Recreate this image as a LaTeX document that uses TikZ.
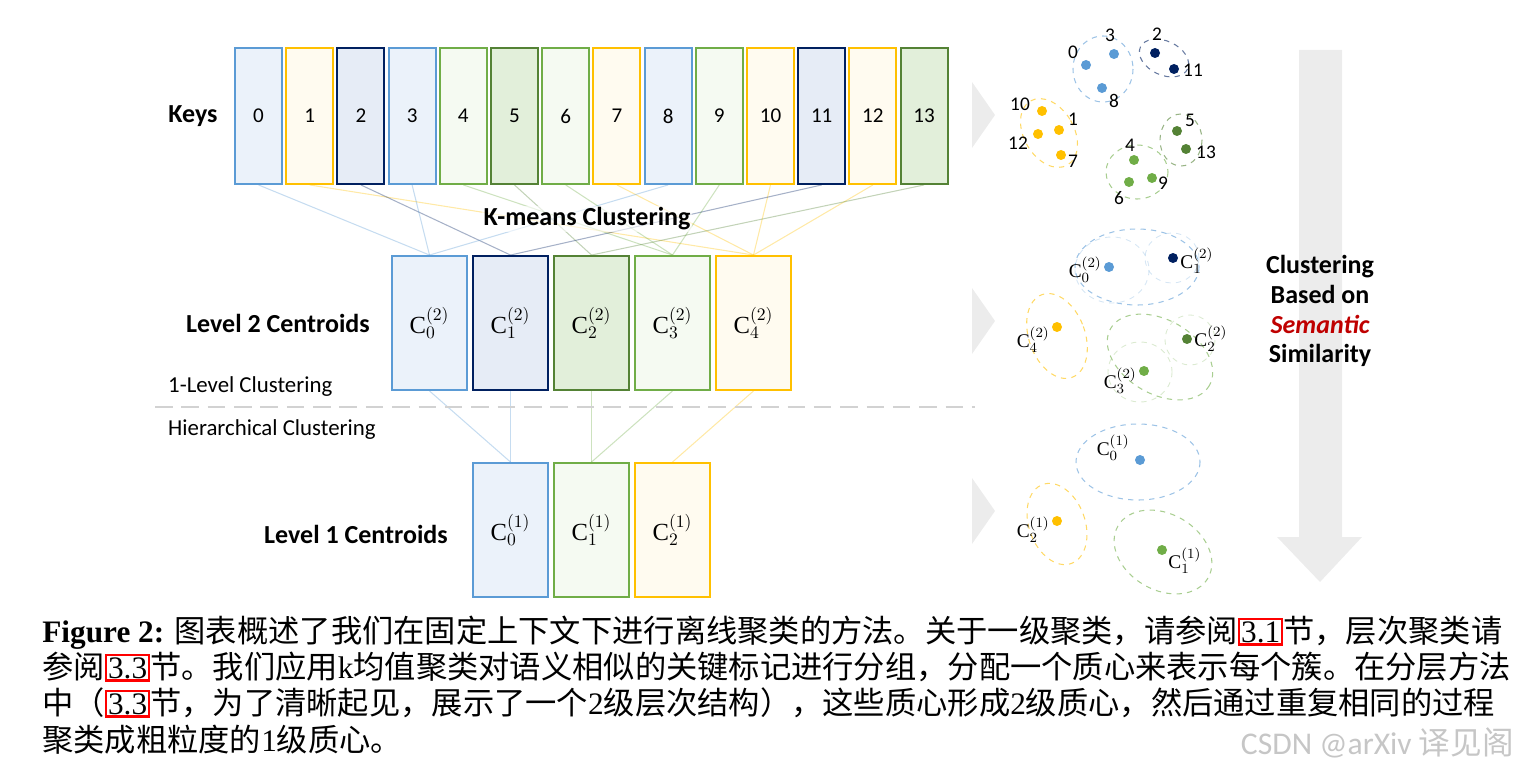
\documentclass[tikz,border=0pt]{standalone}
\usepackage{fontspec}
\setmainfont{Liberation Serif}
\setsansfont{Carlito}
\newfontfamily\cjk{Noto Sans CJK SC}
\usetikzlibrary{shapes, arrows, positioning}
\definecolor{cblue}{HTML}{5B9BD5}
\definecolor{cnavy}{HTML}{002060}
\definecolor{cdgreen}{HTML}{548235}
\definecolor{cgreen}{HTML}{70AD47}
\definecolor{cyellow}{HTML}{FFC000}
\definecolor{fblue}{HTML}{EBF2FA}
\definecolor{fnavy}{HTML}{E6ECF6}
\definecolor{fdgreen}{HTML}{E2EFDA}
\definecolor{fgreen}{HTML}{F5FAF2}
\definecolor{fyellow}{HTML}{FFFBF0}
\newcommand\secbox[1]{{\setlength\fboxsep{0.5pt}\setlength\fboxrule{1.3pt}\fcolorbox{red}{white}{#1}}}

\begin{document}
\begin{tikzpicture}[x=0.02cm, y=-0.02cm,
  keybox/.style={draw=#1, line width=1.1pt, minimum width=0.94cm, minimum height=2.72cm, inner sep=0pt, font=\sffamily\fontsize{12}{14}\selectfont},
  cenbox/.style={draw=#1, line width=1.1pt, minimum width=1.5cm, minimum height=2.68cm, inner sep=0pt, font=\fontsize{14}{16}\selectfont},
  rowlabel/.style={font=\sffamily\bfseries\fontsize{14.8}{17}\selectfont},
  sidelabel/.style={font=\sffamily\fontsize{13}{15}\selectfont, anchor=west},
  link/.style={draw=#1, opacity=0.35, line width=0.6pt},
  pt/.style={fill=#1, circle, inner sep=0pt, minimum size=0.2cm},
  nlab/.style={font=\sffamily\fontsize{11}{13}\selectfont, inner sep=0pt},
  clus/.style={draw=#1, dashed, line width=0.6pt, opacity=0.6},
  inner/.style={draw=#1, dashed, line width=0.5pt, opacity=0.25},
  shade/.style={fill=gray!15}]
\useasboundingbox (0,0) rectangle (1525,770);

% big arrow and chevrons
\fill[shade] (1299,50) -- (1342,50) -- (1342,537) -- (1362,537) -- (1320,582) -- (1277,537) -- (1299,537) -- cycle;
\foreach \yy in {115,321,511}
  \fill[shade] (972,\yy-33) -- (995,\yy) -- (972,\yy+33) -- cycle;
\node[rowlabel, align=center] (semantic) at (1320,311) {Clustering\\Based on\\\textcolor{red!75!black}{\itshape Semantic}\\Similarity};

% keys
\foreach \i/\col in {0/blue,1/yellow,2/navy,3/blue,4/green,5/dgreen,6/green,7/yellow,8/blue,9/green,10/yellow,11/navy,12/yellow,13/dgreen}
  \node[keybox=c\col, fill=f\col] (k\i) at (258.5+51.2*\i,116) {\i};

% level 2 centroids
\foreach \i/\col in {0/blue,1/navy,2/dgreen,3/green,4/yellow}
  \node[cenbox=c\col, fill=f\col] (m\i) at (429.5+81*\i,323) {$\mathrm{C}_{\i}^{(2)}$};

% level 1 centroids
\foreach \i/\col in {0/blue,1/green,2/yellow}
  \node[cenbox=c\col, fill=f\col] (l\i) at (510.5+81*\i,530) {$\mathrm{C}_{\i}^{(1)}$};

% key to centroid links
\foreach \k/\c/\col in {0/0/blue,1/4/yellow,2/1/navy,3/0/blue,4/3/green,5/2/dgreen,6/3/green,7/4/yellow,8/0/blue,9/3/green,10/4/yellow,11/1/navy,12/4/yellow,13/2/dgreen}
  \draw[link=c\col] (k\k.south) -- (m\c.north);
\foreach \c/\p/\col in {0/0/blue,1/0/blue,2/1/green,3/1/green,4/2/yellow}
  \draw[link=c\col] (m\c.south) -- (l\p.north);

\node[rowlabel] (keys) at (193,116) {Keys};
\node[rowlabel, anchor=east] (lev2) at (376,323) {Level 2 Centroids};
\node[rowlabel, anchor=east] (lev1) at (454,534) {Level 1 Centroids};
\node[rowlabel, fill=white, fill opacity=0.6, text opacity=1, inner sep=1pt] (kmeans) at (587,219) {K-means Clustering};
\node[sidelabel] (onelev) at (162,387) {1-Level Clustering};
\node[sidelabel] (hier) at (162,430) {Hierarchical Clustering};
\coordinate (divl) at (155,407);
\coordinate (divr) at (975,407);
\draw[gray!35, line width=1.6pt, dash pattern=on 10pt off 5pt] (divl) -- (divr);

% keys scatter
\draw[clus=cblue] (1103,69) ellipse [x radius=30, y radius=33];
\draw[clus=cnavy, rotate around={-25:(1164,58)}] (1164,58) ellipse [x radius=26, y radius=17];
\draw[clus=cyellow, rotate around={30:(1049,133)}] (1049,133) ellipse [x radius=25, y radius=37];
\draw[clus=cdgreen] (1181,140) ellipse [x radius=21, y radius=26];
\draw[clus=cgreen] (1137,172) ellipse [x radius=31, y radius=27];
\foreach \n/\xx/\yy/\col in {0/1086/65/blue,3/1114/54/blue,8/1102/88/blue,2/1155/53/navy,11/1174/69/navy,10/1042/111/yellow,1/1059/130/yellow,12/1038/134/yellow,7/1061/155/yellow,5/1177/131/dgreen,13/1186/149/dgreen,4/1134/160/green,6/1129/182/green,9/1152/178/green}
  \node[pt=c\col] (p\n) at (\xx,\yy) {};
\foreach \n/\xx/\yy in {0/1073/52,3/1110/35,8/1114/101,2/1157/34,11/1193/70,10/1020/104,1/1073/119,12/1018/143,7/1073/161,5/1190/120,13/1206/152,4/1130/145,6/1119/198,9/1163/183}
  \node[nlab] (t\n) at (\xx,\yy) {\n};

% level 2 scatter
\draw[clus=cblue] (1137,267) ellipse [x radius=62, y radius=38];
\draw[inner=cblue] (1112,270) ellipse [x radius=37, y radius=33];
\draw[inner=cblue] (1172,258) ellipse [x radius=27, y radius=25];
\draw[clus=cyellow, rotate around={20:(1057,336)}] (1057,336) ellipse [x radius=28, y radius=44];
\draw[clus=cgreen, rotate around={-30:(1160,357)}] (1160,357) ellipse [x radius=57, y radius=37];
\draw[inner=cgreen] (1140,372) ellipse [x radius=32, y radius=30];
\draw[inner=cgreen] (1190,340) ellipse [x radius=25, y radius=25];
\node[pt=cblue] (q0) at (1109,267) {};
\node[pt=cnavy] (q1) at (1173,258) {};
\node[pt=cdgreen] (q2) at (1187,339) {};
\node[pt=cgreen] (q3) at (1144,371) {};
\node[pt=cyellow] (q4) at (1057,327) {};
\node[nlab, anchor=east] (u0) at (1102,270) {$\mathrm{C}_0^{(2)}$};
\node[nlab, anchor=west] (u1) at (1180,261) {$\mathrm{C}_1^{(2)}$};
\node[nlab, anchor=west] (u2) at (1194,339) {$\mathrm{C}_2^{(2)}$};
\node[nlab, anchor=east] (u3) at (1137,381) {$\mathrm{C}_3^{(2)}$};
\node[nlab, anchor=east] (u4) at (1050,340) {$\mathrm{C}_4^{(2)}$};

% level 1 scatter
\draw[clus=cblue] (1138,462) ellipse [x radius=62, y radius=38];
\draw[clus=cyellow, rotate around={20:(1057,524)}] (1057,524) ellipse [x radius=28, y radius=42];
\draw[clus=cgreen, rotate around={-30:(1163,552)}] (1163,552) ellipse [x radius=52, y radius=38];
\node[pt=cblue] (r0) at (1140,460) {};
\node[pt=cgreen] (r1) at (1162,550) {};
\node[pt=cyellow] (r2) at (1057,521) {};
\node[nlab, anchor=east] (v0) at (1130,448) {$\mathrm{C}_0^{(1)}$};
\node[nlab, anchor=west] (v1) at (1168,561) {$\mathrm{C}_1^{(1)}$};
\node[nlab, anchor=east] (v2) at (1050,530) {$\mathrm{C}_2^{(1)}$};

% caption
\begin{scope}[every node/.style={anchor=base west, inner sep=0pt, font=\fontsize{17.8}{20}\selectfont}]
\node (cap1) at (42,642) {\textbf{Figure 2:} {\cjk 图表概述了我们在固定上下文下进行离线聚类的方法。关于一级聚类，请参阅}\secbox{3.1}{\cjk 节，层次聚类请}};
\node (cap2) at (42,678) {{\cjk 参阅}\secbox{3.3}{\cjk 节。我们应用}k{\cjk 均值聚类对语义相似的关键标记进行分组，分配一个质心来表示每个簇。在分层方法}};
\node (cap3) at (42,714) {{\cjk 中（}\secbox{3.3}{\cjk 节，为了清晰起见，展示了一个}2{\cjk 级层次结构），这些质心形成}2{\cjk 级质心，然后通过重复相同的过程}};
\node (cap4) at (42,751) {{\cjk 聚类成粗粒度的}1{\cjk 级质心。}};
\end{scope}
\node[anchor=east, text=gray!45, font=\sffamily\fontsize{18}{20}\selectfont] (mark) at (1520,743) {CSDN @arXiv {\cjk 译见阁}};
\end{tikzpicture}
\end{document}
